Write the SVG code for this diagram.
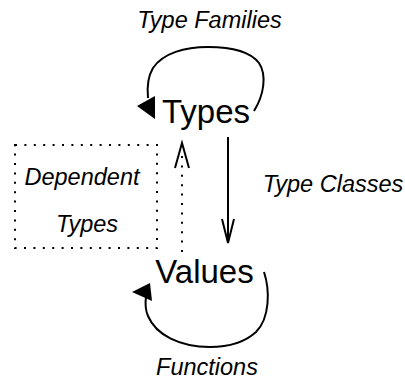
<svg xmlns="http://www.w3.org/2000/svg" width="405" height="379" viewBox="0 0 405 379">
  <style>
    .node { font-family: "Liberation Sans", Arial, sans-serif; font-size: 33px; fill: #000; text-anchor: middle; }
    .label { font-family: "Liberation Sans", Arial, sans-serif; font-size: 23.5px; font-style: italic; fill: #000; text-anchor: middle; }
    .edge { fill: none; stroke: #000; stroke-width: 2; }
    .dotted { fill: none; stroke: #000; stroke-width: 2; stroke-dasharray: 2 7.4; }
    .head { fill: #000; stroke: none; }
  </style>
  <rect width="405" height="379" fill="#fff"/>

  <g id="connectors">
    <!-- Type Families: self-loop on Types -->
    <path class="edge" d="M 254,111 C 264,95 267,75 259,63 C 249,50 229,47 208,47 C 185,47 163,53 153,68 C 147,78 147,88 148,98"/>
    <polygon class="head" points="137,106 155,96 155,119"/>
    <text class="label" x="209.5" y="28">Type Families</text>

    <!-- Type Classes: Types to Values -->
    <path class="edge" d="M 228,137 L 228,242"/>
    <path class="edge" d="M 222,219 L 228,243 L 234,219"/>
    <text class="label" x="333" y="192">Type Classes</text>

    <!-- Dependent Types: Values back to Types -->
    <path class="dotted" d="M 182,252 L 182,150"/>
    <path class="edge" d="M 175,168 L 182,143 L 189,168"/>

    <!-- Functions: self-loop on Values -->
    <path class="edge" d="M 264,272 C 270,290 270,318 256,332 C 244,343 228,347 210,347 C 180,347 156,335 148,316 C 145,309 145,304 146,297"/>
    <polygon class="head" points="150,283 132,292 152,301"/>
    <text class="label" x="207" y="375">Functions</text>
  </g>

  <g id="dependent-types">
    <rect class="dotted" x="15" y="145" width="142" height="103"/>
    <text class="label" x="82" y="185">Dependent</text>
    <text class="label" x="87" y="232">Types</text>
  </g>

  <g id="types">
    <text class="node" x="206" y="123">Types</text>
  </g>

  <g id="values">
    <text class="node" x="204.5" y="283">Values</text>
  </g>
</svg>
